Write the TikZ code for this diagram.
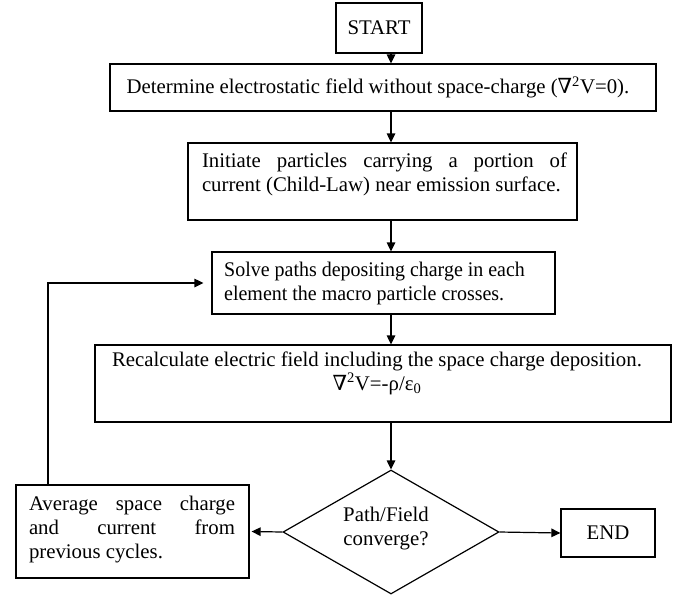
\documentclass[tikz,border=0pt]{standalone}
\usepackage{fontspec}
\setmainfont{Liberation Serif}
\newfontfamily\nablafont{DejaVu Serif}
\usetikzlibrary{shapes.geometric,arrows.meta}
\newcommand{\nab}{{\nablafont\symbol{"2207}}}
\hyphenpenalty=10000
\begin{document}
\begin{tikzpicture}[x=1pt,y=-1pt,
  box/.style={draw,line width=1.2pt,rectangle,inner sep=0pt},
  txt/.style={inner sep=0pt,font=\fontsize{20.8}{24}\selectfont},
  arr/.style={line width=1.2pt,-{Triangle[length=9pt,width=8.5pt]}},
  ln/.style={line width=1.2pt}]
\useasboundingbox (0,0) rectangle (684,595);
\coordinate (ax) at (391,0);
% boxes
\node[box,minimum width=86pt,minimum height=50pt] (start) at (379,28) {};
\node[txt] at (start) {START};
\node[box,minimum width=546pt,minimum height=47pt] (b2) at (383,87.5) {};
\node[txt] at (378,87.5) {Determine electrostatic field without space-charge (\nab\textsuperscript{2}V=0).};
\node[box,minimum width=389pt,minimum height=77pt] (b3) at (382.5,181.5) {};
\node[txt,text width=365pt,align=justify] at (384.5,174.5) {Initiate particles carrying a portion of\linebreak current (Child-Law) near emission surface.};
\node[box,minimum width=343pt,minimum height=62pt] (b4) at (383.5,283) {};
\node[txt,align=left,anchor=west] at (224,283.5) {\scalebox{0.96}[1]{Solve paths depositing charge in each}\\\scalebox{0.96}[1]{element the macro particle crosses.}};
\node[box,minimum width=576pt,minimum height=77pt] (b5) at (383,383.5) {};
\node[txt,align=center] at (377,373) {Recalculate electric field including the space charge deposition.\\\nab\textsuperscript{2}V=-ρ/ε\textsubscript{0}};
\node[box,diamond,minimum width=216pt,minimum height=124pt,aspect=1.74] (dec) at (391,532) {};
\node[txt,align=center] at (386,529) {Path/Field\\converge?};
\node[box,minimum width=233pt,minimum height=93pt] (avg) at (132.5,531.5) {};
\node[txt,text width=206pt,align=justify] at (132,530) {Average space charge\linebreak and current from\linebreak previous cycles.};
\node[box,minimum width=94pt,minimum height=48pt] (end) at (608,533) {};
\node[txt] at (end) {END};
% connectors
\draw[arr] (start.south -| ax) -- (b2.north -| ax);
\draw[arr] (b2.south -| ax) -- (b3.north -| ax);
\draw[arr] (b3.south -| ax) -- (b4.north -| ax);
\draw[arr] (b4.south -| ax) -- (b5.north -| ax);
\draw[arr] (b5.south -| ax) -- (dec.north);
\draw[arr] (dec.east) -- (end.west);
\draw[arr] (dec.west) -- ([xshift=2pt]avg.east);
\coordinate (lp) at (48,283);
\draw[arr] (avg.north -| lp) -- (lp) -- ([xshift=-8pt]b4.west);
\end{tikzpicture}
\end{document}
